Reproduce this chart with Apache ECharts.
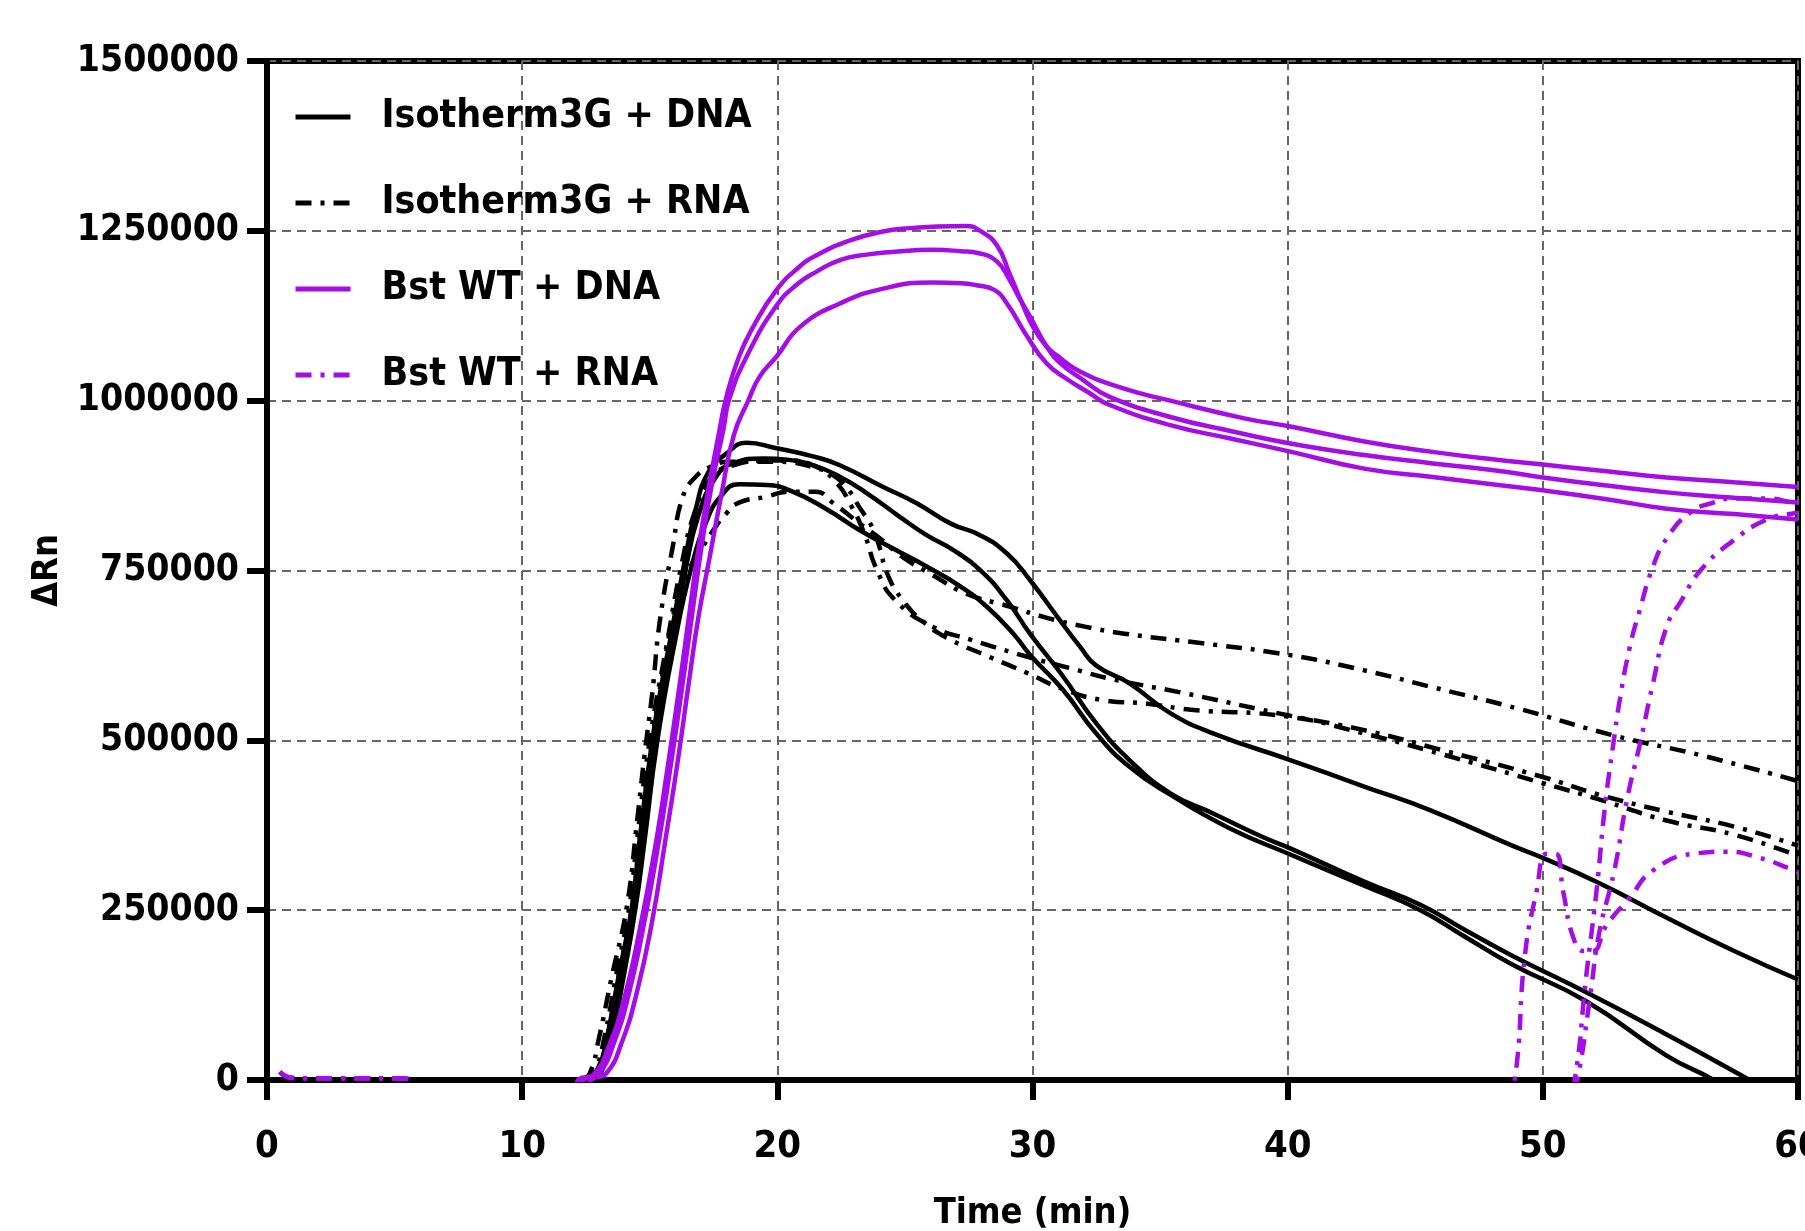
<!DOCTYPE html>
<html>
<head>
<meta charset="utf-8">
<script src="https://cdn.jsdelivr.net/npm/echarts@6/dist/echarts.min.js"></script>
<style>
html,body{margin:0;padding:0;background:#fff;}
#chart{width:1805px;height:1231px;}
</style>
</head>
<body>
<div id="chart"></div>
<script>
// ---- Data (time in min, ΔRn) ----
const legendNames = ['Isotherm3G + DNA', 'Isotherm3G + RNA', 'Bst WT + DNA', 'Bst WT + RNA'];
const xTicks = [0, 10, 20, 30, 40, 50, 60];
const yTicks = [0, 250000, 500000, 750000, 1000000, 1250000, 1500000];

// Isotherm3G + DNA (solid black), three replicates
const isoDna1 = [[0.5,0],[6,0],[12,0],[12.5,0],[13.0,20000],[13.3,59000],[13.8,157000],[14.3,255000],[14.6,353000],[15.1,500000],[15.5,590000],[15.8,648000],[16.3,750000],[16.8,840000],[17.3,895000],[18.0,922000],[18.8,938000],[19.97,930000],[21.4,918000],[22.45,905000],[24.15,873000],[25.46,849000],[26.8,819000],[27.94,802000],[29.0,775000],[29.9,736000],[31.07,677000],[31.86,638000],[32.5,610000],[33.8,584000],[35.4,540000],[37.1,510000],[40.1,471000],[43,432000],[45.6,397000],[48.8,345000],[50,327000],[52.2,290000],[54.8,240000],[57.5,190000],[60,148000]];
const isoDna2 = [[0.5,0],[6,0],[12,0],[12.6,0],[13.1,20000],[13.4,59000],[13.9,157000],[14.35,255000],[14.7,353000],[15.2,500000],[15.9,648000],[16.4,750000],[16.9,830000],[17.6,888000],[18.27,908000],[19.45,915000],[20.4,913000],[21.4,905000],[22.45,888000],[23.5,864000],[24.8,829000],[25.85,802000],[26.9,780000],[27.94,751000],[29.0,706000],[29.9,657000],[31.2,594000],[32.5,525000],[33.8,471000],[35.4,422000],[37.1,392000],[39.0,358000],[40.1,341000],[43,292000],[45.2,258000],[46.9,222000],[48.8,183000],[51.7,129000],[54.85,67000],[58.1,0],[60,-40000]];
const isoDna3 = [[0.5,0],[6,0],[12,0],[12.7,0],[13.2,20000],[13.5,59000],[14.0,157000],[14.45,255000],[14.8,353000],[15.3,500000],[16.0,648000],[16.6,750000],[17.2,820000],[17.8,860000],[18.5,877000],[19.6,876000],[20.6,866000],[21.9,841000],[23.2,810000],[24.5,783000],[25.85,756000],[27.2,726000],[28.2,697000],[29.25,657000],[29.9,626000],[31.2,574000],[32.5,510000],[33.8,461000],[35.4,420000],[37.7,371000],[40.1,332000],[43,286000],[45.2,250000],[46.9,212000],[48.8,170000],[51.7,116000],[54.85,36000],[56.7,0],[60,-75000]];

// Isotherm3G + RNA (dash-dot black), three replicates
const isoRna1 = [[0.5,0],[6,0],[12,0],[12.3,0],[12.65,10000],[13.0,60000],[13.5,150000],[14.1,255000],[14.5,380000],[14.8,480000],[15.1,570000],[15.4,677000],[15.9,785000],[16.3,859000],[16.8,888000],[17.4,903000],[18.1,910000],[20.1,910000],[21.6,900000],[22.2,890000],[22.8,868000],[23.2,844000],[23.7,815000],[24.0,785000],[24.3,746000],[24.9,707000],[25.8,672000],[26.8,648000],[28.3,623000],[29.8,599000],[31.3,574000],[32.8,559000],[34.5,554000],[36.2,545000],[40,535000],[43,510000],[46,480000],[50,437000],[52.2,413000],[54.85,382000],[57.5,361000],[60,330000]];
const isoRna2 = [[0.5,0],[6,0],[12,0],[12.4,0],[12.9,20000],[13.2,59000],[13.7,157000],[14.2,255000],[14.5,353000],[15.0,500000],[15.7,648000],[16.2,750000],[16.8,840000],[17.5,890000],[18.3,905000],[19.5,912000],[20.5,912000],[21.5,903000],[22.3,880000],[22.9,845000],[23.4,805000],[23.9,751000],[24.6,707000],[26.1,667000],[27.6,648000],[29.8,623000],[31.8,603000],[33,591000],[36,569000],[40,537000],[43,515000],[46,486000],[50,446000],[52.2,420000],[54.85,395000],[57.5,373000],[60,345000]];
const isoRna3 = [[0.5,0],[6,0],[12,0],[12.5,0],[13.0,20000],[13.3,59000],[13.8,157000],[14.3,255000],[14.6,353000],[15.1,500000],[15.6,620000],[16.1,710000],[16.6,756000],[17.0,780000],[17.5,810000],[18.0,834000],[18.5,850000],[19.5,858000],[20.5,866000],[21.5,866000],[22.2,849000],[23.2,820000],[24.1,795000],[24.9,770000],[26.1,743000],[27.4,716000],[29.1,697000],[30.6,680000],[32.1,667000],[33.6,657000],[36.2,645000],[40,626000],[43,603000],[45.8,577000],[49,547000],[52.9,506000],[56.2,478000],[60,440000]];

// Bst WT + DNA (solid purple), three replicates
const bstDna1 = [[0.5,-30000],[11.9,-30000],[12.2,0],[12.8,8000],[13.4,50000],[14.0,120000],[14.6,220000],[15.2,340000],[15.7,460000],[16.2,590000],[16.6,700000],[16.9,780000],[17.3,870000],[17.7,950000],[18.0,1005000],[18.5,1065000],[19.06,1109000],[19.97,1163000],[20.8,1195000],[21.54,1214000],[22.85,1236000],[24.15,1249000],[25.2,1254000],[26.1,1256000],[27.4,1257000],[27.9,1251000],[28.6,1229000],[29.1,1187000],[29.6,1143000],[30.0,1110000],[30.5,1082000],[30.94,1067000],[31.86,1043000],[33.56,1018000],[35.4,1000000],[38.3,974000],[40.1,962000],[43,940000],[45.6,925000],[48.2,913000],[50,906000],[52.5,896000],[54.85,887000],[57.5,880000],[60,873000]];
const bstDna2 = [[0.5,-30000],[12.1,-30000],[12.4,0],[13.0,10000],[13.6,55000],[14.2,130000],[14.8,235000],[15.35,350000],[15.85,470000],[16.35,600000],[16.75,710000],[17.05,790000],[17.45,880000],[17.9,960000],[18.1,1000000],[18.8,1065000],[19.97,1140000],[20.8,1172000],[21.54,1190000],[22.45,1207000],[23.5,1215000],[24.5,1219000],[26.1,1222000],[27.2,1220000],[27.9,1217000],[28.6,1205000],[29.1,1178000],[29.5,1150000],[29.9,1124000],[30.55,1080000],[31.1,1055000],[32.0,1030000],[33.0,1006000],[35.4,976000],[37.8,955000],[40.1,937000],[43,920000],[45.6,908000],[48,898000],[50,887000],[52.5,875000],[54.85,865000],[57.5,857000],[60,850000]];
const bstDna3 = [[0.5,-30000],[12.4,-30000],[12.7,0],[13.3,10000],[13.9,55000],[14.5,130000],[15.1,235000],[15.6,350000],[16.1,470000],[16.55,590000],[16.9,680000],[17.3,760000],[17.8,860000],[18.3,950000],[18.86,1000000],[19.3,1035000],[19.97,1065000],[20.9,1109000],[22.45,1143000],[24.15,1165000],[26.1,1174000],[27.2,1173000],[27.8,1170000],[28.5,1163000],[29.0,1143000],[29.8,1094000],[30.55,1055000],[31.3,1033000],[32.2,1012000],[33,994000],[35.4,964000],[37.8,944000],[40.1,925000],[43,900000],[45.6,888000],[48,877000],[50,868000],[52.5,855000],[54.85,841000],[57.5,833000],[60,825000]];

// Bst WT + RNA (dash-dot purple), three replicates
const bstRna1 = [[0.5,12000],[1.0,3000],[2,2500],[3,2500],[4,2500],[5,2500],[5.5,2000],[6,-40000],[48.5,-40000],[48.9,0],[49.3,184000],[49.75,277000],[50.15,333000],[50.5,333000],[50.8,277000],[51.2,209000],[51.6,190000],[51.95,190000],[52.5,228000],[53.4,268000],[54.3,308000],[55.9,333000],[57.2,336000],[58.5,327000],[59.7,311000],[60,306000]];
const bstRna2 = [[0.5,12000],[1.0,3000],[2,2500],[3,2500],[4,2500],[5,2500],[5.5,2000],[6,-40000],[50.9,-40000],[51.25,0],[51.7,153000],[52.1,277000],[52.43,401000],[52.76,494000],[53.0,556000],[53.4,636000],[53.8,692000],[54.3,754000],[54.85,797000],[55.76,835000],[56.68,850000],[57.46,856000],[58.8,856000],[59.8,850000],[60,849000]];
const bstRna3 = [[0.5,12000],[1.0,3000],[2,2500],[3,2500],[4,2500],[5,2500],[5.5,2000],[6,-40000],[51.0,-40000],[51.35,0],[51.85,122000],[52.2,215000],[52.8,308000],[53.3,413000],[53.8,494000],[54.3,581000],[54.85,667000],[55.4,704000],[56.2,751000],[57.46,794000],[58.77,825000],[59.8,834000],[60,835000]];

// ---- Chart ----
const FONT = "'DejaVu Sans Condensed', 'Liberation Sans Narrow', 'DejaVu Sans', sans-serif";
const BLACK = '#000000';
const PURPLE = '#A50DE6';
const DASHDOT = [16, 9, 4, 9];

function line(name, data, color, dashed) {
  return {
    name: name, type: 'line', data: data, symbol: 'none', showSymbol: false,
    smooth: 0.5, clip: true,
    lineStyle: { color: color, width: 4.5, type: dashed ? DASHDOT : 'solid', cap: 'butt', join: 'round' },
    itemStyle: { color: color }
  };
}

const chart = echarts.init(document.getElementById('chart'), null, { renderer: 'canvas' });
chart.setOption({
  animation: false,
  backgroundColor: '#ffffff',
  grid: { left: 267, right: 7, top: 61, bottom: 151, containLabel: false, outerBoundsMode: 'none',
          show: true, borderColor: '#000', borderWidth: 6, backgroundColor: 'transparent' },
  legend: {
    data: legendNames, orient: 'vertical', left: 288, top: 90,
    itemWidth: 55, itemHeight: 16, itemGap: 42,
    itemStyle: { color: 'rgba(0,0,0,0)', borderWidth: 0 },
    lineStyle: { width: 5 },
    textStyle: { fontFamily: FONT, fontWeight: 'bold', fontSize: 39, color: '#000', lineHeight: 44, padding: [0, 0, 0, 26] }
  },
  xAxis: {
    type: 'value', min: 0, max: 60, interval: 10,
    name: 'Time (min)', nameLocation: 'middle', nameGap: 116,
    nameTextStyle: { fontFamily: FONT, fontWeight: 'bold', fontSize: 36, color: '#000' },
    axisLine: { show: true, onZero: false, lineStyle: { color: '#000', width: 6 } },
    axisTick: { show: true, inside: false, length: 20, lineStyle: { color: '#000', width: 6 } },
    axisLabel: { fontFamily: FONT, fontWeight: 'bold', fontSize: 38, color: '#000', margin: 48, showMaxLabel: true, showMinLabel: true,
                 formatter: function (v) { return String(v); } },
    splitLine: { show: true, lineStyle: { color: '#666', width: 2, type: [9, 6] } }
  },
  yAxis: {
    type: 'value', min: 0, max: 1500000, interval: 250000,
    name: 'ΔRn', nameLocation: 'middle', nameGap: 156, nameRotate: 90,
    nameTextStyle: { fontFamily: FONT, fontWeight: 'bold', fontSize: 36, color: '#000' },
    axisLine: { show: true, lineStyle: { color: '#000', width: 6 } },
    axisTick: { show: true, inside: false, length: 20, lineStyle: { color: '#000', width: 6 } },
    axisLabel: { fontFamily: FONT, fontWeight: 'bold', fontSize: 37, color: '#000', margin: 28,
                 formatter: function (v) { return String(v); } },
    splitLine: { show: true, lineStyle: { color: '#666', width: 2, type: [9, 6] } }
  },
  series: [
    line(legendNames[0], isoDna1, BLACK, false),
    line(legendNames[0], isoDna2, BLACK, false),
    line(legendNames[0], isoDna3, BLACK, false),
    line(legendNames[1], isoRna1, BLACK, true),
    line(legendNames[1], isoRna2, BLACK, true),
    line(legendNames[1], isoRna3, BLACK, true),
    line(legendNames[2], bstDna1, PURPLE, false),
    line(legendNames[2], bstDna2, PURPLE, false),
    line(legendNames[2], bstDna3, PURPLE, false),
    line(legendNames[3], bstRna1, PURPLE, true),
    line(legendNames[3], bstRna2, PURPLE, true),
    line(legendNames[3], bstRna3, PURPLE, true)
  ]
});
</script>
</body>
</html>
